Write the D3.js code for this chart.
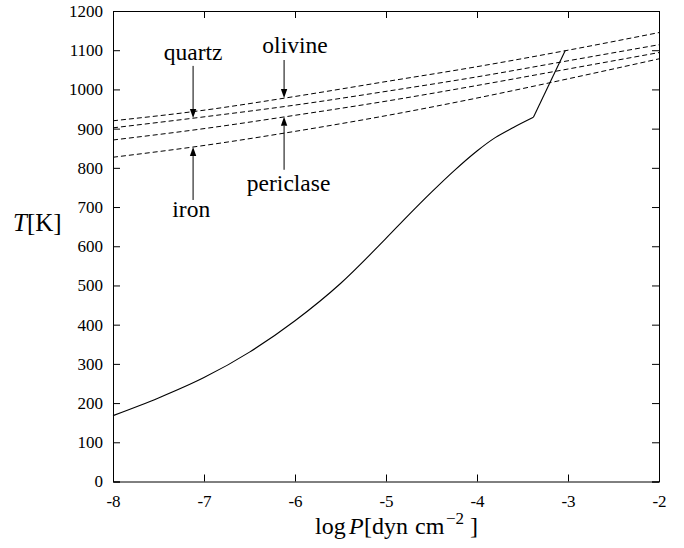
<!DOCTYPE html>
<html>
<head>
<meta charset="utf-8">
<script src="https://cdn.jsdelivr.net/npm/d3@7"></script>
<style>
  html, body { margin: 0; padding: 0; background: #fff; }
  svg { display: block; }
</style>
</head>
<body>
<svg id="chart" width="684" height="548"></svg>
<script>
// ---------- data ----------
const xTicks = [-8, -7, -6, -5, -4, -3, -2];
const xTickLabels = ["-8", "-7", "-6", "-5", "-4", "-3", "-2"];
const yTicks = [0, 100, 200, 300, 400, 500, 600, 700, 800, 900, 1000, 1100, 1200];
const yTickLabels = ["0", "100", "200", "300", "400", "500", "600", "700", "800", "900", "1000", "1100", "1200"];

// condensation temperature lines (dashed)
const condLogP = [-8, -7, -6, -5, -4, -3, -2];
const olivineT   = [920, 947, 982, 1020, 1058, 1100, 1145];
const quartzT    = [902, 930, 960, 995, 1032, 1073, 1114];
const pericaseT  = [871, 900, 934, 970, 1010, 1052, 1094];
const ironT      = [827, 857, 893, 933, 978, 1027, 1078];

// nebula P-T profile (solid)
const profLogP = [-8, -7.5, -7, -6.5, -6, -5.5, -5, -4.75, -4.5, -4.25, -4, -3.8, -3.6, -3.38];
const profT    = [168, 213, 265, 330, 410, 505, 620, 680, 738, 793, 843, 877, 903, 929];
const steepLogP = [-3.38, -3.03];
const steepT    = [929, 1099];

// annotations: label, arrow x (log P), arrow tail T, arrow tip T, text x, text baseline T
const annLabels = ["quartz", "olivine", "periclase", "iron"];
const annX      = [-7.12, -6.12, -6.12, -7.12];
const annTail   = [1060, 1075, 795, 718];
const annTip    = [927, 978, 930, 853];
const annTextX  = [-7.12, -6.0, -6.07, -7.14];
const annTextT  = [1075, 1094, 742, 675];

// ---------- layout ----------
const FONT = '"Liberation Serif", "DejaVu Serif", "Times New Roman", Times, serif';
const svg = d3.select("#chart");
const x = d3.scaleLinear().domain([-8, -2]).range([113, 659]);
const y = d3.scaleLinear().domain([0, 1200]).range([481.5, 11]);

const tickLen = 7;
const axB = d3.axisBottom(x).tickValues(xTicks).tickSize(-tickLen).tickPadding(13)
  .tickFormat((d, i) => xTickLabels[i]);
const axT = d3.axisTop(x).tickValues(xTicks).tickSize(-tickLen).tickFormat("");
const axL = d3.axisLeft(y).tickValues(yTicks).tickSize(-tickLen).tickPadding(10)
  .tickFormat((d, i) => yTickLabels[i]);
const axR = d3.axisRight(y).tickValues(yTicks).tickSize(-tickLen).tickFormat("");

function styleAxis(g, fs) {
  g.attr("font-family", null).style("font-family", FONT).attr("font-size", fs);
  g.selectAll(".domain").attr("stroke", "#000").attr("stroke-width", 1);
  g.selectAll(".tick line").attr("stroke", "#000").attr("stroke-width", 1);
  g.selectAll(".tick text").style("font-family", FONT).style("font-size", fs + "px").attr("fill", "#000");
}

svg.append("g").attr("transform", `translate(0,${y(0)})`).call(axB).call(g => styleAxis(g, 17));
svg.append("g").attr("transform", `translate(0,${y(1200)})`).call(axT).call(g => styleAxis(g, 17));
svg.append("g").attr("transform", `translate(${x(-8)},0)`).call(axL).call(g => styleAxis(g, 17));
svg.append("g").attr("transform", `translate(${x(-2)},0)`).call(axR).call(g => styleAxis(g, 17));

// ---------- lines ----------
const lineGen = d3.line().x(d => x(d[0])).y(d => y(d[1])).curve(d3.curveMonotoneX);
const linGen = d3.line().x(d => x(d[0])).y(d => y(d[1]));

[olivineT, quartzT, pericaseT, ironT].forEach(arr => {
  svg.append("path")
    .datum(condLogP.map((p, i) => [p, arr[i]]))
    .attr("d", lineGen)
    .attr("fill", "none").attr("stroke", "#000").attr("stroke-width", 1)
    .attr("stroke-dasharray", "5,3");
});

svg.append("path")
  .datum(profLogP.map((p, i) => [p, profT[i]]))
  .attr("d", lineGen)
  .attr("fill", "none").attr("stroke", "#000").attr("stroke-width", 1.1);
svg.append("path")
  .datum(steepLogP.map((p, i) => [p, steepT[i]]))
  .attr("d", linGen)
  .attr("fill", "none").attr("stroke", "#000").attr("stroke-width", 1.1);

// ---------- annotations ----------
const headL = 9, headW = 3.2;
annLabels.forEach((lab, i) => {
  const ax = x(annX[i]), y0 = y(annTail[i]), y1 = y(annTip[i]);
  const dir = y1 > y0 ? 1 : -1;
  svg.append("line").attr("x1", ax).attr("x2", ax).attr("y1", y0).attr("y2", y1 - dir * headL)
    .attr("stroke", "#000").attr("stroke-width", 1);
  svg.append("path")
    .attr("d", `M${ax},${y1} L${ax - headW},${y1 - dir * headL} L${ax + headW},${y1 - dir * headL} Z`)
    .attr("fill", "#000");
  svg.append("text").attr("x", x(annTextX[i])).attr("y", y(annTextT[i]))
    .attr("text-anchor", "middle").style("font-family", FONT).style("font-size", "23.5px").text(lab);
});

// ---------- axis titles ----------
const yt = svg.append("text").attr("x", 13).attr("y", 231).style("font-family", FONT).style("font-size", "25px");
yt.append("tspan").attr("font-style", "italic").text("T");
yt.append("tspan").text("[K]");

const xt = svg.append("text").attr("y", 534).style("font-family", FONT).style("font-size", "24px");
xt.append("tspan").attr("x", 315).text("log");
xt.append("tspan").attr("x", 349).attr("font-style", "italic").text("P");
xt.append("tspan").attr("x", 364).text("[dyn");
xt.append("tspan").attr("x", 415).text("cm");
xt.append("tspan").attr("x", 446).style("font-size", "17px").attr("dy", -10).text("\u22122");
xt.append("tspan").attr("x", 470).attr("dy", 10).text("]");
</script>
</body>
</html>
